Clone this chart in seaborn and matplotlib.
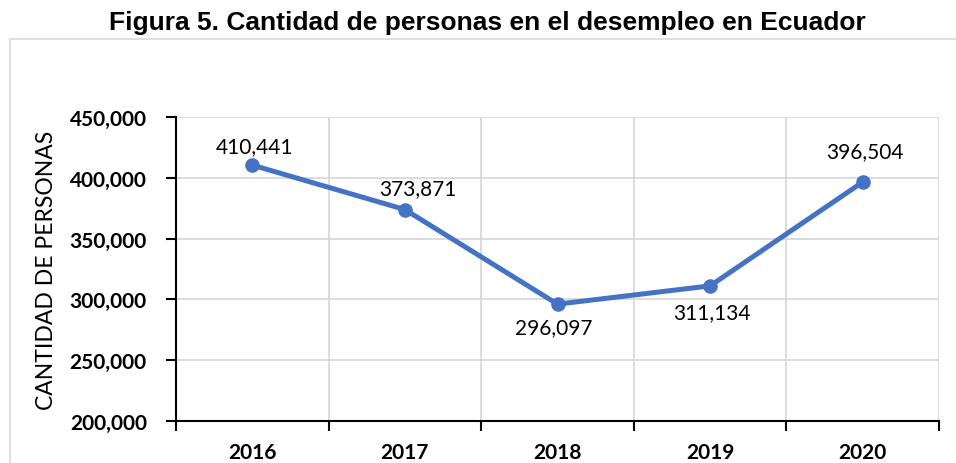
import seaborn as sns
import matplotlib.pyplot as plt
from matplotlib.patches import Rectangle
from matplotlib.ticker import FuncFormatter, FixedLocator
from pandas import DataFrame

years = ["2016", "2017", "2018", "2019", "2020"]
personas = [410441, 373871, 296097, 311134, 396504]

# label offsets (px) - above / below like the excel chart
label_dx = [2, 13, -4, 2, 2]
label_dy = [19, 21, -23, -26, 31]

df = DataFrame(dict(anio=years, personas=personas))

sns.set_theme(style="white")
plt.rcParams['font.family'] = ['Lato', 'DejaVu Sans']
plt.rcParams['text.color'] = 'black'
plt.rcParams['axes.labelcolor'] = 'black'
plt.rcParams['xtick.color'] = 'black'
plt.rcParams['ytick.color'] = 'black'

fig = plt.figure(figsize=(9.56, 4.64), dpi=100)
ax = fig.add_axes([176/956, 1-422/464, (939-176)/956, (422-118)/464])

# outer chart border
fig.patches.append(Rectangle((10/956, -0.1), 1.2, 0.1 + (464-40)/464,
                             transform=fig.transFigure, fill=False,
                             edgecolor="#D9D9D9", linewidth=1.2))

sns.lineplot(data=df, x="anio", y="personas", ax=ax, color="#4472C4",
             linewidth=3.6, marker="o", markersize=10.5, markeredgewidth=0,
             sort=False)

ax.set_xlim(-0.5, 4.5)
ax.set_ylim(200000, 450000)
ax.set_yticks(range(200000, 450001, 50000))
ax.yaxis.set_major_formatter(FuncFormatter(lambda v, p: f"{int(v):,}"))

# vertical grid + ticks between categories
ax.xaxis.set_minor_locator(FixedLocator([i - 0.5 for i in range(6)]))
ax.tick_params(axis="x", which="major", bottom=True, length=0, pad=15)
ax.tick_params(axis="x", which="minor", bottom=True, length=7, width=1.5,
               color="black", direction="out")
ax.tick_params(axis="y", left=True, length=7, width=1.5, color="black",
               direction="out", pad=14)
ax.grid(axis="y", which="major", color="#D9D9D9", linewidth=1.3)
ax.grid(axis="x", which="minor", color="#D9D9D9", linewidth=1.3)
ax.grid(axis="x", which="major", visible=False)
ax.set_axisbelow(True)

for lbl in ax.get_xticklabels() + ax.get_yticklabels():
    lbl.set_fontweight("bold")
    lbl.set_fontsize(15)
    lbl.set_color("black")

for s in ["top", "right"]:
    ax.spines[s].set_visible(False)
ax.spines["left"].set_color("black")
ax.spines["bottom"].set_color("black")
ax.spines["left"].set_linewidth(1.5)
ax.spines["bottom"].set_linewidth(1.5)

for i, v in enumerate(personas):
    ax.annotate(f"{v:,}", (i, v), xytext=(label_dx[i]*0.72, label_dy[i]*0.72),
                textcoords="offset points", ha="center", va="center",
                fontsize=15, color="black")

ax.set_xlabel("")
ax.set_ylabel("CANTIDAD DE PERSONAS", fontsize=16.5, color="black", labelpad=9)

fig.text(487/956, 1-23/464, "Figura 5. Cantidad de personas en el desempleo en Ecuador",
         ha="center", va="center", fontsize=19, fontweight="bold", color="black",
         family=["Liberation Sans", "DejaVu Sans"])

fig.savefig("out.png", dpi=100)
